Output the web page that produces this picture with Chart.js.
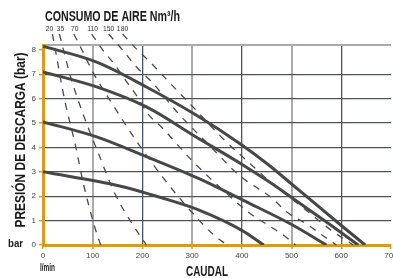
<!DOCTYPE html>
<html>
<head>
<meta charset="utf-8">
<script src="https://cdn.jsdelivr.net/npm/chart.js@4/dist/chart.umd.min.js"></script>
<style>
  html, body { margin: 0; padding: 0; background: #fff; }
</style>
</head>
<body>
<canvas id="chart" width="393" height="278"></canvas>
<script>
// ── data ──
const flowTicks = [0, 100, 200, 300, 400, 500, 600, 700];   // l/min
const pressureTicks = [0, 1, 2, 3, 4, 5, 6, 7, 8];          // bar

// pump curves (solid) – [caudal, presión]
const pump3 = [[0, 3.0], [154, 2.42], [254, 1.84], [314, 1.43], [400, 0.6], [444, 0]];
const pump5 = [[0, 5.05], [108, 4.43], [208, 3.62], [314, 2.72], [402, 1.84], [502, 0.82], [570, 0]];
const pump7 = [[0, 7.1], [108, 6.48], [208, 5.66], [308, 4.43], [402, 3.28], [454, 2.6], [500, 1.95], [580, 0.8], [634, 0]];
const pump8 = [[0, 8.15], [108, 7.5], [208, 6.48], [308, 5.33], [400, 4.1], [454, 3.28], [500, 2.5], [600, 0.8], [648, 0]];

// air consumption lines (dashed), Nm3/h
const airLabels = ['20', '35', '70', '110', '150', '180'];
const air20 = [[19, 8.65], [24, 8.1], [44, 5.9], [64, 4.2], [82, 2.45], [104, 0.74], [116, 0]];
const air35 = [[33, 8.65], [40, 8.1], [54, 7.0], [80, 5.4], [112, 3.73], [144, 2.13], [188, 0.6], [208, 0]];
const air70 = [[62, 8.65], [76, 8.1], [100, 7.1], [142, 5.7], [190, 4.2], [240, 2.8], [290, 1.56], [344, 0.4], [370, 0]];
const air110 = [[98, 8.65], [120, 8.0], [144, 7.4], [168, 6.7], [190, 6.07], [210, 5.4], [240, 4.8], [298, 3.5], [354, 2.4], [418, 1.27], [454, 0.8], [486, 0.37], [508, 0]];
const air150 = [[132, 8.65], [160, 8.0], [188, 7.3], [218, 6.7], [272, 5.4], [334, 4.1], [394, 2.87], [460, 1.93], [494, 1.3], [530, 0.86], [564, 0.37], [590, 0]];
const air180 = [[160, 8.65], [190, 8.0], [218, 7.45], [248, 6.8], [276, 6.2], [306, 5.57], [360, 4.4], [424, 3.2], [460, 2.54], [500, 1.9], [540, 1.25], [580, 0.6], [624, 0]];

const ORANGE = '#d99b1f';
const CURVE = '#474747';
const DASH = '#4a4a4a';
const GRID_DARK = '#4d545d';
const GRID_LIGHT = '#a8aaad';

const pts = arr => arr.map(([x, y]) => ({ x, y }));

const pumpSet = [pump3, pump5, pump7, pump8].map(p => ({
    data: pts(p),
    borderColor: CURVE,
    borderWidth: 3,
    pointRadius: 0,
    cubicInterpolationMode: 'monotone',
    fill: false
}));

const airSet = [air20, air35, air70, air110, air150, air180].map((a, i) => ({
    data: pts(a),
    label: airLabels[i],
    isAir: true,
    borderColor: DASH,
    borderWidth: 1.3,
    borderDash: [7, 7],
    pointRadius: 0,
    cubicInterpolationMode: 'monotone',
    clip: false,
    fill: false
}));

// condensed text: squeeze a normal face by k
function squeezed(c, text, x, y, k, font, align) {
    c.save();
    c.font = font;
    const w = c.measureText(text).width * k;
    const left = align === 'center' ? x - w / 2 : x;
    c.textAlign = 'left';
    c.translate(left, y);
    c.scale(k, 1);
    c.fillText(text, 0, 0);
    c.restore();
}

// bold condensed text fitted to a width
function fitText(c, text, x, y, w, size, align) {
    c.save();
    c.font = `bold ${size}px "Liberation Sans", Arial, sans-serif`;
    const k = w / c.measureText(text).width;
    c.restore();
    squeezed(c, text, x, y, k, `bold ${size}px "Liberation Sans", Arial, sans-serif`, align);
}

const labelShift = [-3, 1, 1, 1, 0, 0];

const textPlugin = {
    id: 'texts',
    afterDraw(chart) {
        const c = chart.ctx;
        c.save();
        c.fillStyle = '#1a1a1a';
        c.textBaseline = 'alphabetic';

        fitText(c, 'CONSUMO DE AIRE Nm³/h', 45, 21, 135, 14, 'left');

        // labels above the dashed lines
        c.fillStyle = '#333';
        let n = 0;
        chart.data.datasets.forEach((ds, i) => {
            if (!ds.isAir) return;
            const p = chart.getDatasetMeta(i).data[0];
            squeezed(c, ds.label, p.x + labelShift[n++], 31, 0.85, '8px "Liberation Sans", sans-serif', 'center');
        });

        c.fillStyle = '#1a1a1a';
        fitText(c, 'CAUDAL', 207, 276, 42, 14, 'center');
        fitText(c, 'bar', 8, 247, 15, 11, 'left');
        fitText(c, 'l/min', 40, 271, 15, 10, 'left');

        c.translate(25, 140);
        c.rotate(-Math.PI / 2);
        fitText(c, 'PRESIÓN DE DESCARGA (bar)', 0, 0, 175, 14, 'center');
        c.restore();
    }
};

const flowGrid = v => (v === 100 || v === 300 || v === 500) ? GRID_LIGHT : (v === 200 || v === 400 || v === 600) ? GRID_DARK : 'rgba(0,0,0,0)';

new Chart(document.getElementById('chart'), {
    type: 'line',
    data: { datasets: [...airSet, ...pumpSet] },
    options: {
        responsive: false,
        animation: false,
        layout: { padding: { left: 0, right: 2, top: 45, bottom: 0 } },
        plugins: { legend: { display: false }, tooltip: { enabled: false } },
        scales: {
            x: {
                type: 'linear',
                min: flowTicks[0],
                max: flowTicks[flowTicks.length - 1],
                afterBuildTicks: s => { s.ticks = flowTicks.map(v => ({ value: v })); },
                afterFit: s => { s.height = 33; s.paddingLeft = 0; s.paddingRight = 0; },
                ticks: { color: '#444', padding: 2, font: { size: 8, family: 'Liberation Sans' }, maxRotation: 0 },
                grid: {
                    color: ctx => flowGrid(ctx.tick.value),
                    lineWidth: ctx => flowGrid(ctx.tick.value) === GRID_LIGHT ? 2 : 1.3,
                    tickColor: ORANGE,
                    tickLength: 4,
                    tickWidth: 1.5
                },
                border: { color: ORANGE, width: 3 }
            },
            y: {
                min: 0,
                max: 8.2,
                afterBuildTicks: s => { s.ticks = [...pressureTicks, 8.2].map(v => ({ value: v })); },
                afterFit: s => { s.width = 43; s.paddingTop = 0; s.paddingBottom = 0; },
                ticks: {
                    color: '#444', padding: 3, font: { size: 8, family: 'Liberation Sans' },
                    callback: v => v > 8.1 ? '' : v
                },
                grid: {
                    color: ctx => ctx.tick.value > 8.1 ? GRID_LIGHT : (ctx.tick.value >= 1 && ctx.tick.value <= 7) ? GRID_DARK : 'rgba(0,0,0,0)',
                    lineWidth: ctx => ctx.tick.value > 8.1 ? 2 : 1.3,
                    tickColor: ctx => ctx.tick.value > 8.1 ? 'rgba(0,0,0,0)' : ORANGE,
                    tickLength: 4,
                    tickWidth: 1.5
                },
                border: { color: ORANGE, width: 3 }
            }
        }
    },
    plugins: [textPlugin]
});
</script>
</body>
</html>
